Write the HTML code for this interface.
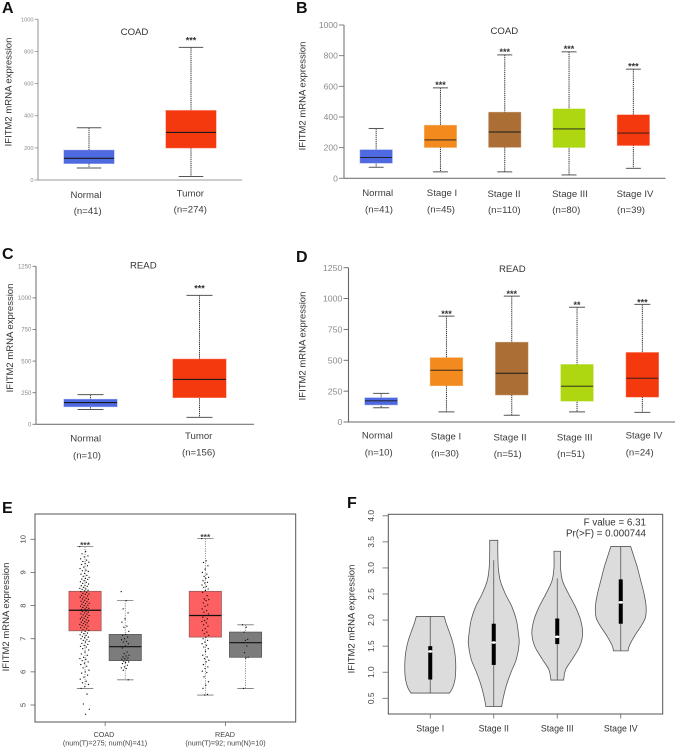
<!DOCTYPE html>
<html lang="en">
<head>
<meta charset="utf-8">
<title>IFITM2 mRNA expression</title>
<style>
html,body{margin:0;padding:0;background:#fff;}
body{width:676px;height:749px;overflow:hidden;}
svg{display:block;filter:blur(0.3px);}
text{font-family:"Liberation Sans",Arial,sans-serif;}
.letter{font-size:16px;font-weight:700;fill:#111;}
.title{font-size:9.6px;fill:#333;text-anchor:middle;}
.ylab{font-size:9.5px;fill:#333;text-anchor:middle;}
.cat{font-size:9.6px;fill:#3c3c3c;text-anchor:middle;}
.e-lab{font-size:7.2px;fill:#444;text-anchor:middle;}
.f-note{font-size:9.8px;fill:#333;text-anchor:end;}
</style>
</head>
<body>
<svg id="fig" xmlns="http://www.w3.org/2000/svg" width="676" height="749" viewBox="0 0 676 749">
  <rect x="0" y="0" width="676" height="749" fill="#fff"/>

  <text class="letter" x="2" y="13">A</text>
  <text class="letter" x="296" y="13">B</text>
  <text class="letter" x="2" y="259">C</text>
  <text class="letter" x="296" y="262">D</text>
  <text class="letter" x="2" y="513">E</text>
  <text class="letter" x="347" y="508">F</text>

  <text class="title" x="134.5" y="35">COAD</text>
  <text class="title" x="504.3" y="34">COAD</text>
  <text class="title" x="143.3" y="268.5">READ</text>
  <text class="title" x="512.3" y="272">READ</text>

  <text class="ylab" transform="translate(11.5,92) rotate(-90)">IFITM2 mRNA expression</text>
  <text class="ylab" transform="translate(305.5,96) rotate(-90)">IFITM2 mRNA expression</text>
  <text class="ylab" transform="translate(13,338) rotate(-90)">IFITM2 mRNA expression</text>
  <text class="ylab" transform="translate(305.5,346) rotate(-90)">IFITM2 mRNA expression</text>
  <text class="ylab" transform="translate(9,617) rotate(-90)">IFITM2 mRNA expression</text>
  <text class="ylab" transform="translate(354.5,619) rotate(-90)">IFITM2 mRNA expression</text>

  <g>
    <text class="cat" x="86" y="198">Normal</text>
    <text class="cat" x="87.7" y="214">(n=41)</text>
    <text class="cat" x="190.3" y="196.7">Tumor</text>
    <text class="cat" x="190.3" y="212.7">(n=274)</text>
  </g>
  <g>
    <text class="cat" x="377.7" y="196">Normal</text>
    <text class="cat" x="379" y="212.7">(n=41)</text>
    <text class="cat" x="442" y="196">Stage I</text>
    <text class="cat" x="441" y="212.7">(n=45)</text>
    <text class="cat" x="504" y="197">Stage II</text>
    <text class="cat" x="504.3" y="213">(n=110)</text>
    <text class="cat" x="570" y="197">Stage III</text>
    <text class="cat" x="566.3" y="213">(n=80)</text>
    <text class="cat" x="635" y="197">Stage IV</text>
    <text class="cat" x="631" y="213">(n=39)</text>
  </g>
  <g>
    <text class="cat" x="85.7" y="441.3">Normal</text>
    <text class="cat" x="87" y="458.3">(n=10)</text>
    <text class="cat" x="198.7" y="439">Tumor</text>
    <text class="cat" x="198.7" y="455.7">(n=156)</text>
  </g>
  <g>
    <text class="cat" x="377.3" y="438.3">Normal</text>
    <text class="cat" x="378.7" y="455.3">(n=10)</text>
    <text class="cat" x="446" y="439.3">Stage I</text>
    <text class="cat" x="445" y="456.3">(n=30)</text>
    <text class="cat" x="510" y="440.3">Stage II</text>
    <text class="cat" x="507.7" y="457">(n=51)</text>
    <text class="cat" x="574.7" y="440.3">Stage III</text>
    <text class="cat" x="571" y="457">(n=51)</text>
    <text class="cat" x="644" y="438.7">Stage IV</text>
    <text class="cat" x="639.7" y="455.3">(n=24)</text>
  </g>
  <g>
    <text class="e-lab" x="104" y="737">COAD</text>
    <text class="e-lab" x="105" y="745.7">(num(T)=275; num(N)=41)</text>
    <text class="e-lab" x="225" y="737">READ</text>
    <text class="e-lab" x="225.5" y="745.7">(num(T)=92; num(N)=10)</text>
  </g>
  <text class="f-note" x="646" y="525.7">F value = 6.31</text>
  <text class="f-note" x="646" y="536.7">Pr(&gt;F) = 0.000744</text>
</svg>

<script>
/* Panel A */
const aTicks = [0, 200, 400, 600, 800, 1000];
const aHigh = [325, 825];
const aQ3 = [185, 432];
const aMedian = [135, 296];
const aQ1 = [103, 200];
const aLow = [75, 22];
const aStars = ['', '***'];
const aColors = ['#4f69e0', '#f5390e'];

/* Panel B */
const bTicks = [0, 200, 400, 600, 800, 1000];
const bHigh = [325, 590, 805, 825, 712];
const bQ3 = [185, 345, 430, 452, 413];
const bMedian = [135, 250, 302, 322, 295];
const bQ1 = [100, 202, 203, 202, 215];
const bLow = [72, 42, 42, 22, 65];
const bStars = ['', '***', '***', '***', '***'];
const bColors = ['#4f69e0', '#f28a1e', '#ab6e34', '#aed611', '#f5390e'];

/* Panel C */
const cTicks = [0, 250, 500, 750, 1000, 1250];
const cHigh = [235, 1020];
const cQ3 = [197, 515];
const cMedian = [172, 355];
const cQ1 = [140, 212];
const cLow = [117, 55];
const cStars = ['', '***'];
const cColors = ['#4f69e0', '#f5390e'];

/* Panel D */
const dTicks = [0, 250, 500, 750, 1000, 1250];
const dHigh = [232, 858, 1020, 930, 953];
const dQ3 = [195, 520, 645, 465, 562];
const dMedian = [172, 420, 395, 290, 355];
const dQ1 = [140, 295, 220, 170, 203];
const dLow = [115, 82, 55, 82, 78];
const dStars = ['', '***', '***', '**', '***'];
const dColors = ['#4f69e0', '#f28a1e', '#ab6e34', '#aed611', '#f5390e'];

/* Panel E */
const eTicks = [5, 6, 7, 8, 9, 10];
const eTumorHigh = [9.78, 10.02];
const eTumorQ3 = [8.43, 8.43];
const eTumorMedian = [7.86, 7.7];
const eTumorQ1 = [7.24, 7.05];
const eTumorLow = [5.5, 5.3];
const eNormalHigh = [8.15, 7.42];
const eNormalQ3 = [7.13, 7.2];
const eNormalMedian = [6.76, 6.88];
const eNormalQ1 = [6.34, 6.44];
const eNormalLow = [5.76, 5.5];
const eCoadTumorPoints = [9.78,9.63,9.56,9.5,9.47,9.41,9.37,9.33,9.31,9.27,9.24,9.2,9.16,9.12,9.07,9.05,9.03,8.97,8.95,8.91,8.88,8.85,8.82,8.8,8.79,8.75,8.72,8.7,8.67,8.65,8.61,8.6,8.58,8.55,8.52,8.5,8.49,8.46,8.44,8.42,8.4,8.37,8.35,8.34,8.31,8.29,8.26,8.25,8.22,8.2,8.19,8.16,8.13,8.12,8.1,8.07,8.06,8.04,8.01,8.0,7.98,7.95,7.94,7.92,7.9,7.88,7.87,7.86,7.85,7.83,7.82,7.8,7.78,7.75,7.74,7.72,7.7,7.68,7.65,7.64,7.62,7.6,7.57,7.56,7.54,7.51,7.5,7.48,7.46,7.43,7.42,7.4,7.38,7.35,7.33,7.3,7.27,7.25,7.22,7.2,7.17,7.15,7.12,7.1,7.07,7.05,7.03,7.0,6.97,6.95,6.92,6.9,6.86,6.83,6.8,6.77,6.75,6.7,6.66,6.6,6.54,6.5,6.44,6.4,6.38,6.34,6.3,6.26,6.22,6.17,6.12,6.05,6.0,5.96,5.9,5.84,5.78,5.72,5.67,5.62,5.55,5.5,5.33,5.03,4.87,4.72];
const eCoadNormalPoints = [8.42,8.15,7.9,7.78,7.6,7.5,7.38,7.35,7.22,7.13,7.1,7.05,7.0,6.97,6.92,6.9,6.85,6.78,6.72,6.6,6.55,6.5,6.48,6.45,6.42,6.4,6.38,6.35,6.32,6.3,6.28,6.25,6.2,6.15,6.12,6.1,6.05,5.76];
const eReadTumorPoints = [10.02,9.35,9.3,9.2,9.1,9.0,8.95,8.88,8.85,8.82,8.75,8.7,8.68,8.62,8.58,8.55,8.5,8.45,8.4,8.3,8.2,8.18,8.15,8.08,8.02,7.98,7.9,7.85,7.8,7.75,7.7,7.65,7.6,7.55,7.52,7.48,7.42,7.38,7.3,7.25,7.2,7.15,7.1,7.05,7.0,6.95,6.9,6.85,6.8,6.75,6.7,6.62,6.5,6.45,6.4,6.35,6.3,6.22,6.15,6.1,6.02,5.98,5.85,5.7,5.6,5.5,5.32,5.3];
const eReadNormalPoints = [7.42,7.35,7.2,6.98,6.95,6.88,6.78,6.58,6.44,6.42,5.5];

/* Panel F */
const fTicks = [0.5, 1.0, 1.5, 2.0, 2.5, 3.0, 3.5, 4.0];
const fCategories = ['Stage I', 'Stage II', 'Stage III', 'Stage IV'];
const fLevels1 = [0.6, 0.7, 0.85, 1.0, 1.2, 1.4, 1.6, 1.8, 1.95, 2.07];
const fDensity1 = [0.76, 0.88, 0.97, 1.0, 1.0, 0.96, 0.87, 0.73, 0.62, 0.55];
const fLevels2 = [0.34, 0.5, 0.75, 1.0, 1.25, 1.55, 1.75, 2.0, 2.25, 2.5, 2.75, 3.0, 3.3, 3.53];
const fDensity2 = [0.31, 0.37, 0.5, 0.68, 0.89, 1.0, 0.97, 0.89, 0.72, 0.46, 0.26, 0.18, 0.16, 0.16];
const fLevels3 = [0.85, 1.05, 1.25, 1.5, 1.75, 2.0, 2.25, 2.5, 2.75, 3.0, 3.32];
const fDensity3 = [0.25, 0.33, 0.59, 0.89, 1.0, 0.92, 0.72, 0.45, 0.21, 0.13, 0.13];
const fLevels4 = [1.41, 1.5, 1.7, 1.9, 2.05, 2.25, 2.5, 2.75, 3.0, 3.2, 3.41];
const fDensity4 = [0.29, 0.33, 0.55, 0.82, 0.97, 1.0, 0.92, 0.79, 0.66, 0.53, 0.39];
const fWhiskerLow = [0.6, 0.34, 0.85, 1.41];
const fWhiskerHigh = [2.07, 3.15, 2.8, 3.41];
const fBoxLow = [0.86, 1.14, 1.54, 1.93];
const fBoxHigh = [1.5, 1.93, 2.03, 2.78];
const fMedian = [1.4, 1.57, 1.68, 2.34];

const svg = document.getElementById('fig');
const NS = 'http://www.w3.org/2000/svg';

function mk(parent, tag, attrs) {
  const el = document.createElementNS(NS, tag);
  for (const k in attrs) el.setAttribute(k, attrs[k]);
  parent.appendChild(el);
  return el;
}
function grp(name) {
  const g = document.createElementNS(NS, 'g');
  
  
  svg.appendChild(g);
  return g;
}
function linear(d0, d1, r0, r1) {
  return v => r0 + (v - d0) * (r1 - r0) / (d1 - d0);
}
function band(r0, r1, n) {
  return i => r0 + (r1 - r0) * (i + 0.5) / n;
}
function named(el, name) {
  
  
  return el;
}

function drawBoxPanel(p) {
  const g = grp(p.name);
  const y = linear(0, p.ticks[p.ticks.length - 1], p.y0, p.y1);
  const x = band(p.x0, p.x1, p.high.length);
  named(mk(g, 'line', {x1: p.x0, x2: p.x1, y1: p.y0, y2: p.y0, stroke: p.axis, 'stroke-width': 1.1}), 'x-axis');
  named(mk(g, 'line', {x1: p.x0, x2: p.x0, y1: p.y0, y2: y(p.ticks[p.ticks.length - 1]), stroke: p.axis, 'stroke-width': 1.1}), 'y-axis');
  p.ticks.forEach(t => {
    named(mk(g, 'line', {x1: p.x0 - p.tick, x2: p.x0, y1: y(t), y2: y(t), stroke: p.axis, 'stroke-width': 0.9}), 'y-tick');
    const lab = named(mk(g, 'text', {x: p.x0 - p.tick - 1.2, y: y(t) + p.tickFont * 0.36, 'text-anchor': 'end', 'font-size': p.tickFont, fill: '#8a8a8a'}), 'y-tick-label');
    lab.textContent = t;
  });
  p.high.forEach((hi, i) => {
    const cx = x(i);
    named(mk(g, 'line', {x1: cx, x2: cx, y1: y(hi), y2: y(p.low[i]), stroke: '#333', 'stroke-width': 1, 'stroke-dasharray': '1.3 0.8'}), 'whisker');
    named(mk(g, 'line', {x1: cx - p.capW / 2, x2: cx + p.capW / 2, y1: y(hi), y2: y(hi), stroke: '#555', 'stroke-width': 1}), 'upper-cap');
    named(mk(g, 'line', {x1: cx - p.capW / 2, x2: cx + p.capW / 2, y1: y(p.low[i]), y2: y(p.low[i]), stroke: '#555', 'stroke-width': 1}), 'lower-cap');
    named(mk(g, 'rect', {x: cx - p.boxW / 2, y: y(p.q3[i]), width: p.boxW, height: y(p.q1[i]) - y(p.q3[i]), fill: p.colors[i], stroke: p.colors[i], 'stroke-opacity': 0.55, 'stroke-width': 1}), 'box');
    named(mk(g, 'line', {x1: cx - p.boxW / 2, x2: cx + p.boxW / 2, y1: y(p.median[i]), y2: y(p.median[i]), stroke: '#1a1a1a', 'stroke-width': p.medW}), 'median');
    if (p.stars[i]) {
      const s = named(mk(g, 'text', {x: cx, y: y(hi) - p.starGap + 5, 'text-anchor': 'middle', 'font-size': 9, 'font-weight': 700, fill: '#333'}), 'significance-stars');
      s.textContent = p.stars[i];
    }
  });
}

drawBoxPanel({name: 'panel-a-boxplot', ticks: aTicks, high: aHigh, q3: aQ3, median: aMedian, q1: aQ1, low: aLow, stars: aStars, colors: aColors,
  x0: 38, x1: 242, y0: 180, y1: 19.3, axis: '#9a9a9a', tick: 3.3, tickFont: 5.6, boxW: 50, capW: 24.5, medW: 1.1, starGap: 9});
drawBoxPanel({name: 'panel-b-boxplot', ticks: bTicks, high: bHigh, q3: bQ3, median: bMedian, q1: bQ1, low: bLow, stars: bStars, colors: bColors,
  x0: 344, x1: 665.5, y0: 178.3, y1: 25, axis: '#777', tick: 5, tickFont: 8.5, boxW: 32, capW: 15, medW: 0.9, starGap: 4.7});
drawBoxPanel({name: 'panel-c-boxplot', ticks: cTicks, high: cHigh, q3: cQ3, median: cMedian, q1: cQ1, low: cLow, stars: cStars, colors: cColors,
  x0: 36, x1: 254, y0: 424.3, y1: 266.3, axis: '#777', tick: 3.5, tickFont: 6, boxW: 53, capW: 26, medW: 1.2, starGap: 9});
drawBoxPanel({name: 'panel-d-boxplot', ticks: dTicks, high: dHigh, q3: dQ3, median: dMedian, q1: dQ1, low: dLow, stars: dStars, colors: dColors,
  x0: 348.5, x1: 675, y0: 422, y1: 267.7, axis: '#666', tick: 5, tickFont: 8.7, boxW: 32.3, capW: 16, medW: 0.9, starGap: 4});

/* Panel E */
(function () {
  const g = grp('panel-e-boxplot');
  const y = linear(5, 10, 705, 539.3);
  const group = band(45, 285.6, 2);
  named(mk(g, 'rect', {x: 35, y: 514, width: 260.7, height: 208, fill: 'none', stroke: '#555', 'stroke-width': 1}), 'plot-frame');
  eTicks.forEach(t => {
    named(mk(g, 'line', {x1: 30.5, x2: 35, y1: y(t), y2: y(t), stroke: '#666', 'stroke-width': 0.8}), 'y-tick');
    const lab = named(mk(g, 'text', {transform: 'translate(25.5,' + y(t) + ') rotate(-90)', 'text-anchor': 'middle', 'font-size': 7.6, fill: '#444'}), 'y-tick-label');
    lab.textContent = t;
  });
  [0, 1].forEach(i => {
    named(mk(g, 'line', {x1: group(i), x2: group(i), y1: 722, y2: 726, stroke: '#666', 'stroke-width': 0.8}), 'x-tick');
  });
  function box(cx, hi, q3, med, q1, lo, fill, edge, label) {
    named(mk(g, 'line', {x1: cx, x2: cx, y1: y(hi), y2: y(lo), stroke: '#777', 'stroke-width': 0.8, 'stroke-dasharray': '1.2 1.2'}), label + '-whisker');
    named(mk(g, 'line', {x1: cx - 8.2, x2: cx + 8.2, y1: y(hi), y2: y(hi), stroke: '#777', 'stroke-width': 0.8}), label + '-upper-cap');
    named(mk(g, 'line', {x1: cx - 8.2, x2: cx + 8.2, y1: y(lo), y2: y(lo), stroke: '#777', 'stroke-width': 0.8}), label + '-lower-cap');
    named(mk(g, 'rect', {x: cx - 16.1, y: y(q3), width: 32.2, height: y(q1) - y(q3), fill: fill, stroke: edge, 'stroke-width': 0.8}), label + '-box');
    named(mk(g, 'line', {x1: cx - 16.1, x2: cx + 16.1, y1: y(med), y2: y(med), stroke: '#111', 'stroke-width': 1.2}), label + '-median');
  }
  function points(cx, values, spread, label) {
    values.forEach((v, i) => {
      const j = ((i * 0.618034) % 1) * 2 - 1;
      named(mk(g, 'circle', {cx: cx + j * spread, cy: y(v), r: 0.65, fill: '#111'}), label + '-point');
    });
  }
  const offset = 20.1;
  [0, 1].forEach(i => {
    box(group(i) - offset, eTumorHigh[i], eTumorQ3[i], eTumorMedian[i], eTumorQ1[i], eTumorLow[i], '#fd6060', '#9a5a5a', 'tumor');
    box(group(i) + offset, eNormalHigh[i], eNormalQ3[i], eNormalMedian[i], eNormalQ1[i], eNormalLow[i], '#7c7c7c', '#5a5a5a', 'normal');
    const s = named(mk(g, 'text', {x: group(i) - offset, y: y(eTumorHigh[i]) + 1.5, 'text-anchor': 'middle', 'font-size': 8.5, 'font-weight': 700, fill: '#444'}), 'significance-stars');
    s.textContent = '***';
  });
  points(group(0) - offset - 0.5, eCoadTumorPoints, 4.8, 'coad-tumor');
  points(group(0) + offset, eCoadNormalPoints, 4, 'coad-normal');
  points(group(1) - offset, eReadTumorPoints, 3.6, 'read-tumor');
  points(group(1) + offset, eReadNormalPoints, 3, 'read-normal');
})();

/* Panel F */
(function () {
  const g = grp('panel-f-violin');
  const y = linear(0.5, 4.0, 698.3, 515.8);
  const x = band(398.5, 652.5, 4);
  const w = linear(0, 1, 0, 25.4);
  const fLevels = [fLevels1, fLevels2, fLevels3, fLevels4];
  const fDensity = [fDensity1, fDensity2, fDensity3, fDensity4];
  named(mk(g, 'rect', {x: 388.3, y: 514.3, width: 274.4, height: 199.7, fill: 'none', stroke: '#555', 'stroke-width': 1}), 'plot-frame');
  fTicks.forEach(t => {
    named(mk(g, 'line', {x1: 382.5, x2: 388.3, y1: y(t), y2: y(t), stroke: '#666', 'stroke-width': 0.8}), 'y-tick');
    const lab = named(mk(g, 'text', {transform: 'translate(374,' + y(t) + ') rotate(-90)', 'text-anchor': 'middle', 'font-size': 8.4, fill: '#444'}), 'y-tick-label');
    lab.textContent = t.toFixed(1);
  });
  function smooth(pts) {
    let d = '';
    for (let i = 0; i < pts.length - 1; i++) {
      const p0 = pts[Math.max(i - 1, 0)], p1 = pts[i], p2 = pts[i + 1], p3 = pts[Math.min(i + 2, pts.length - 1)];
      d += ' C' + (p1[0] + (p2[0] - p0[0]) / 6) + ' ' + (p1[1] + (p2[1] - p0[1]) / 6) + ' ' + (p2[0] - (p3[0] - p1[0]) / 6) + ' ' + (p2[1] - (p3[1] - p1[1]) / 6) + ' ' + p2[0] + ' ' + p2[1];
    }
    return d;
  }
  fCategories.forEach((c, i) => {
    const cx = x(i);
    const right = fLevels[i].map((v, k) => [cx + w(fDensity[i][k]), y(v)]);
    const left = fLevels[i].map((v, k) => [cx - w(fDensity[i][k]), y(v)]).reverse();
    const d = 'M' + right[0][0] + ' ' + right[0][1] + smooth(right) + ' L' + left[0][0] + ' ' + left[0][1] + smooth(left) + ' Z';
    named(mk(g, 'path', {d: d, fill: '#dcdcdc', stroke: '#555', 'stroke-width': 0.8}), 'violin-body');
    named(mk(g, 'line', {x1: cx, x2: cx, y1: y(fWhiskerLow[i]), y2: y(fWhiskerHigh[i]), stroke: '#555', 'stroke-width': 0.8}), 'violin-whisker');
    named(mk(g, 'line', {x1: cx, x2: cx, y1: y(fBoxLow[i]), y2: y(fBoxHigh[i]), stroke: '#000', 'stroke-width': 4}), 'violin-box');
    named(mk(g, 'ellipse', {cx: cx, cy: y(fMedian[i]), rx: 2.3, ry: 1.3, fill: '#fff'}), 'violin-median');
    named(mk(g, 'line', {x1: cx, x2: cx, y1: 714, y2: 718.5, stroke: '#666', 'stroke-width': 0.8}), 'x-tick');
    const lab = named(mk(g, 'text', {x: cx, y: 731.7, 'text-anchor': 'middle', 'font-size': 8.8, fill: '#333'}), 'x-tick-label');
    lab.textContent = c;
  });
})();
</script>
</body>
</html>
